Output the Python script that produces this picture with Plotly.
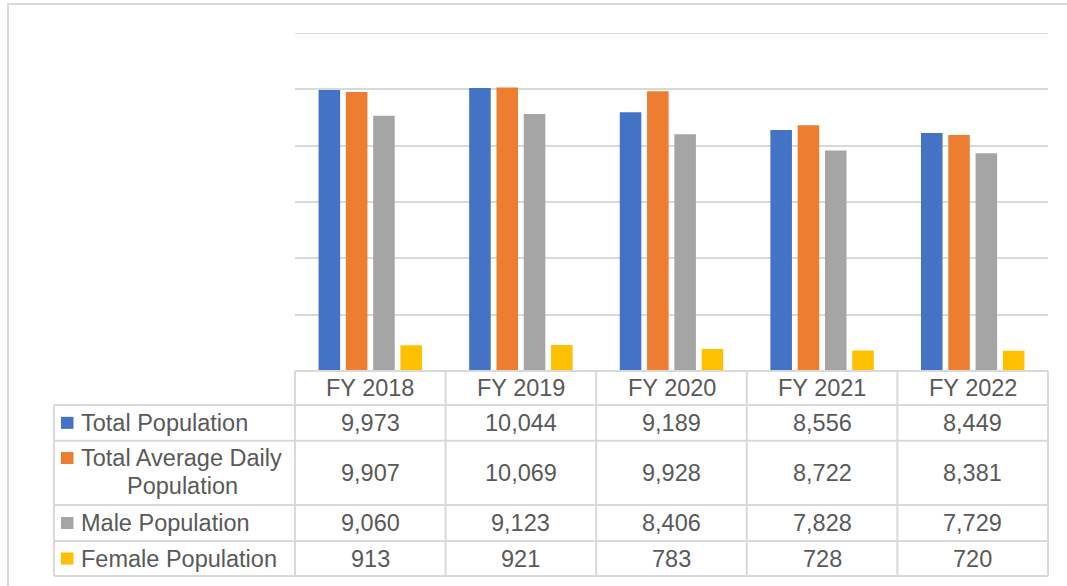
import plotly.graph_objects as go

categories = ["FY 2018", "FY 2019", "FY 2020", "FY 2021", "FY 2022"]
series_names = ["Total Population", "Total Average Daily Population", "Male Population", "Female Population"]
total_population = [9973, 10044, 9189, 8556, 8449]
total_avg_daily = [9907, 10069, 9928, 8722, 8381]
male_population = [9060, 9123, 8406, 7828, 7729]
female_population = [913, 921, 783, 728, 720]
series_values = [total_population, total_avg_daily, male_population, female_population]
colors = ["#4472C4", "#ED7D31", "#A5A5A5", "#FFC000"]
y_max = 12000
y_step = 2000

W, H = 1067, 586
def px(x):
    return x / W
def py(y):
    return 1 - y / H

FONT = "Liberation Sans, Arial, sans-serif"
TXT = "#595959"
LINE = "#d9d9d9"
FS = 23.5

plot_left, plot_right = 295, 1048
plot_top, plot_bottom = 33, 371

fig = go.Figure()
for name, vals, col in zip(series_names, series_values, colors):
    fig.add_trace(go.Bar(x=categories, y=vals, name=name, marker=dict(color=col, line=dict(width=0))))

shapes = []
annotations = []

# outer chart border
shapes.append(dict(type="rect", xref="paper", yref="paper", x0=px(8), x1=px(1075), y0=py(4), y1=py(600),
                   line=dict(color=LINE, width=2), fillcolor="rgba(0,0,0,0)", layer="below"))

# top gridline (at range end)
shapes.append(dict(type="line", xref="paper", yref="y", x0=px(plot_left), x1=px(plot_right), y0=y_max, y1=y_max,
                   line=dict(color=LINE, width=2), layer="below"))

# table geometry
row_edges = [371, 405, 440.7, 505, 541, 576]
left_col = 54
ncat = len(categories)
colw = (plot_right - plot_left) / ncat
col_edges = [plot_left + i * colw for i in range(ncat + 1)]

def hline(y, x0, x1):
    shapes.append(dict(type="line", xref="paper", yref="paper", x0=px(x0), x1=px(x1), y0=py(y), y1=py(y),
                       line=dict(color=LINE, width=2)))
def vline(x, y0, y1):
    shapes.append(dict(type="line", xref="paper", yref="paper", x0=px(x), x1=px(x), y0=py(y0), y1=py(y1),
                       line=dict(color=LINE, width=2)))

hline(row_edges[0], plot_left, plot_right)
for y in row_edges[1:]:
    hline(y, left_col, plot_right)
vline(left_col, row_edges[1], row_edges[-1])
for x in col_edges:
    vline(x, row_edges[0], row_edges[-1])

def text(s, x, y, xanchor="center"):
    annotations.append(dict(text=s, x=px(x), y=py(y), xref="paper", yref="paper", showarrow=False,
                            xanchor=xanchor, yanchor="middle", font=dict(family=FONT, size=FS, color=TXT)))

# header row
for i, c in enumerate(categories):
    text(c, (col_edges[i] + col_edges[i + 1]) / 2, (row_edges[0] + row_edges[1]) / 2)

# data rows
for r, (name, vals, col) in enumerate(zip(series_names, series_values, colors)):
    yc = (row_edges[r + 1] + row_edges[r + 2]) / 2
    for i, v in enumerate(vals):
        text(f"{v:,}", (col_edges[i] + col_edges[i + 1]) / 2, yc)
    if r == 1:
        text("Total Average Daily", 79, 458, "left")
        text("Population", 183, 486, "center")
        sq_y = 458
    else:
        text(name, 79, yc, "left")
        sq_y = yc
    shapes.append(dict(type="rect", xref="paper", yref="paper", x0=px(61), x1=px(73.5),
                       y0=py(sq_y - 6), y1=py(sq_y + 6), line=dict(width=0), fillcolor=col))

fig.update_layout(
    width=W, height=H,
    margin=dict(l=0, r=0, t=0, b=0),
    paper_bgcolor="white", plot_bgcolor="white",
    showlegend=False,
    hovermode=False,
    barmode="group", bargap=0.275, bargroupgap=0.21,
    xaxis=dict(domain=[px(plot_left), px(plot_right)], showticklabels=False, showgrid=False,
               zeroline=False, showline=False, ticks=""),
    yaxis=dict(domain=[py(plot_bottom), py(plot_top)], range=[0, y_max], dtick=y_step,
               showticklabels=False, showgrid=True, gridcolor=LINE, gridwidth=2,
               zeroline=False, showline=False, ticks=""),
    shapes=shapes, annotations=annotations,
)

fig.write_html("out.html", config={"displayModeBar": False},
               post_script="document.body.style.margin='0';document.body.style.overflow='hidden';")
